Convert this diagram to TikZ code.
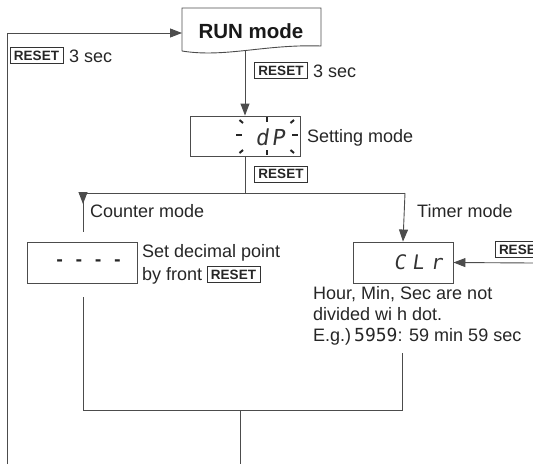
\documentclass[tikz,border=0pt]{standalone}
\usepackage{fontspec}
\setmainfont{Liberation Sans}
\newfontfamily\segfont[FakeSlant=0.15]{DejaVu Sans Mono}
\newfontfamily\segmono{DejaVu Sans Mono}
\usetikzlibrary{arrows.meta}
\begin{document}
\begin{tikzpicture}[x=1pt,y=-1pt,
  ln/.style={draw=black!70, line width=0.9pt},
  arr/.style={ln, -{Triangle[length=12pt,width=9pt]}},
  dispbox/.style={draw=black!70, line width=0.9pt, rectangle, inner sep=0pt},
  keybox/.style={draw=black!80, line width=0.7pt, font=\bfseries\fontsize{13.5}{13.5}\selectfont, minimum width=53pt, minimum height=16pt, inner sep=0pt, text=black!85},
  lbl/.style={font=\fontsize{18}{21}\selectfont, text=black!85, inner sep=0pt, anchor=base west},
  seg/.style={font=\segfont\fontsize{20}{20}\selectfont, text=black!80, inner sep=0pt},
  tick/.style={draw=black!85, line width=2pt}
]
\clip (0,0) rectangle (533,464);
% RUN mode
\coordinate (rnw) at (182,8);
\coordinate (rne) at (321,8);
\coordinate (rse) at (321,46);
\coordinate (rsw) at (182,51);
\coordinate (runb) at (245,50.5);
\draw[ln] (rsw) -- (rnw) -- (rne) -- (rse) .. controls (265,44) and (225,58) .. (rsw);
\node[font=\bfseries\fontsize{20.5}{22}\selectfont, inner sep=0pt, text=black!90] (run) at (251,31) {RUN mode};
% loop back
\coordinate (loopbot) at (7,464);
\coordinate (looptop) at (7,33);
\draw[arr] (loopbot) -- (looptop) -- (rnw |- looptop);
\node[keybox] (k1) at (36.5,55.5) {RESET};
\node[lbl] (k1t) at (69,62) {3 sec};
% RUN -> dP
\node[dispbox, minimum width=110pt, minimum height=40pt] (dp) at (245,136) {};
\draw[arr] (runb) -- (dp.north);
\node[keybox] (k2) at (281,70.5) {RESET};
\node[lbl] (k2t) at (313,77) {3 sec};
\node[seg, font=\segfont\fontsize{22}{22}\selectfont\addfontfeatures{LetterSpace=12}] (dpt) at (270,137) {dP};
\draw[tick] (236,135) -- (242,135);
\draw[tick] (292,135) -- (298,135);
\draw[tick] (267,117) -- (267,122);
\draw[tick] (267,150) -- (267,155);
\draw[tick] (239.5,120) -- (243,123);
\draw[tick] (294,120) -- (290.5,123);
\draw[tick] (243,150) -- (239.5,153);
\draw[tick] (290.5,150) -- (294,153);
\node[lbl] (setm) at (307,142) {Setting mode};
\node[keybox] (k3) at (281,174) {RESET};
% split
\coordinate (jc) at (245,193);
\coordinate (jl) at (83,193);
\coordinate (jr) at (405,193);
\coordinate (jla) at (83,204);
\coordinate (jle) at (83,232);
\draw[ln] (dp.south) -- (jc);
\draw[ln] (jl) -- (jr);
\draw[ln] (jl) -- (jle);
\draw[arr] (jl) -- (jla);
\node[lbl] (cm) at (90,217) {Counter mode};
\node[lbl] (tm) at (417,217) {Timer mode};
% counter box
\node[dispbox, minimum width=110pt, minimum height=41pt] (cb) at (82,262.5) {};
\node[font=\segmono\bfseries\fontsize{16}{16}\selectfont, text=black!85, inner sep=0pt] (cbt) at (88.5,262.5) {- - - -};
\node[lbl] (sd1) at (142,257) {Set decimal point};
\node[lbl] (sd2) at (142,280.5) {by front};
\node[keybox] (k4) at (233.5,274.5) {RESET};
% timer box
\node[dispbox, minimum width=100pt, minimum height=41pt] (clr) at (403,262.5) {};
\draw[arr] (jr) -- (clr.north);
\node[seg, font=\segfont\fontsize{20}{20}\selectfont\addfontfeatures{LetterSpace=32}] (clrt) at (418,262) {CLr};
\coordinate (rin) at (533,263);
\draw[arr] (rin) -- (clr.east);
\node[keybox] (k5) at (521.5,249.5) {RESET};
\node[lbl] (h1) at (313,299) {Hour, Min, Sec are not};
\node[lbl] (h2) at (313,320) {divided wi h dot.};
\node[lbl] (h3) at (313,341) {E.g.)\,{\segmono\fontsize{18}{18}\selectfont 5959}: 59 min 59 sec};
% bottom merge
\coordinate (cbb) at (83,297);
\coordinate (bl) at (83,410);
\coordinate (rtop) at (402,353);
\coordinate (br) at (402,410);
\coordinate (bc) at (240,410);
\coordinate (bcend) at (240,464);
\draw[ln] (cbb) -- (bl) -- (br) -- (rtop);
\draw[ln] (bc) -- (bcend);
\end{tikzpicture}
\end{document}
